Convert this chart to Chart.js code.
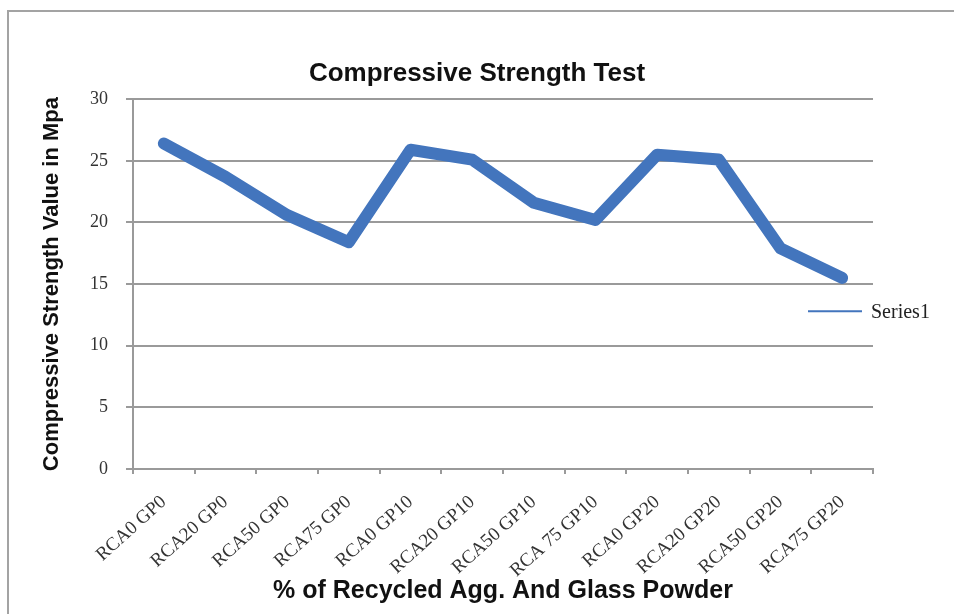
<!DOCTYPE html>
<html>
<head>
<meta charset="utf-8">
<script src="https://cdn.jsdelivr.net/npm/chart.js@4.4.1/dist/chart.umd.min.js"></script>
<style>
  html, body { margin: 0; padding: 0; background: #fff; overflow: hidden; }
  #wrap { position: relative; width: 954px; height: 614px; overflow: hidden; }
  #frame { position: absolute; left: 7px; top: 10px; width: 2000px; height: 1000px; border: 2px solid #a3a3a3; }
  #chart { position: absolute; left: 0; top: 0; }
</style>
</head>
<body>
<div id="wrap">
  <div id="frame"></div>
  <canvas id="chart" width="954" height="614"></canvas>
</div>
<script>
// categories along the x axis
const mixes = [
  'RCA0 GP0', 'RCA20 GP0', 'RCA50 GP0', 'RCA75 GP0',
  'RCA0 GP10', 'RCA20 GP10', 'RCA50 GP10', 'RCA 75 GP10',
  'RCA0 GP20', 'RCA20 GP20', 'RCA50 GP20', 'RCA75 GP20'
]

// compressive strength, MPa
const strength = [26.4, 23.7, 20.6, 18.4, 25.9, 25.1, 21.6, 20.2, 25.5, 25.1, 17.9, 15.5]

const yTicks = [0, 5, 10, 15, 20, 25, 30]

const blue = '#4375bd'
const gridGray = '#9a9a9a'
const serif = 'Liberation Serif'
const sans = 'Liberation Sans'

// Excel-style legend sitting inside the right edge of the plot
const sideLegend = {
  id: 'sideLegend',
  afterDraw(chart) {
    const { ctx, chartArea } = chart
    const ds = chart.data.datasets[0]
    const y = chart.scales.y.getPixelForValue(12.8)
    ctx.save()
    ctx.strokeStyle = ds.borderColor
    ctx.lineWidth = 2
    ctx.beginPath()
    ctx.moveTo(chartArea.right - 65, y)
    ctx.lineTo(chartArea.right - 11, y)
    ctx.stroke()
    ctx.fillStyle = '#222'
    ctx.font = '20px "' + serif + '"'
    ctx.textBaseline = 'middle'
    ctx.fillText(ds.label, chartArea.right - 2, y + 2)
    ctx.restore()
  }
}

const chartConfig = {
  type: 'line',
  data: {
    labels: mixes,
    datasets: [
      {
        label: 'Series1',
        data: strength,
        borderColor: blue,
        backgroundColor: blue,
        borderWidth: 12,
        borderJoinStyle: 'round',
        borderCapStyle: 'round',
        pointRadius: 0,
        tension: 0,
        fill: false
      }
    ]
  },
  options: {
    responsive: false,
    animation: false,
    devicePixelRatio: 1,
    layout: {
      padding: 0
    },
    plugins: {
      legend: { display: false },
      tooltip: { enabled: false },
      title: {
        display: true,
        text: 'Compressive Strength Test',
        color: '#111',
        font: { family: sans, size: 26, weight: 'bold' },
        padding: { top: 58, bottom: 10 }
      }
    },
    scales: {
      x: {
        type: 'category',
        offset: true,
        grid: {
          display: true,
          offset: true,
          drawOnChartArea: false,
          drawTicks: true,
          tickLength: 5,
          color: gridGray,
          lineWidth: 2
        },
        border: { display: true, color: gridGray, width: 2 },
        ticks: {
          autoSkip: false,
          minRotation: 42,
          maxRotation: 42,
          padding: 17,
          color: '#333',
          font: { family: serif, size: 19 }
        },
        title: {
          display: true,
          text: '% of Recycled Agg. And Glass Powder',
          color: '#111',
          font: { family: sans, size: 25, weight: 'bold' },
          padding: { top: 0, bottom: 8 }
        },
        afterFit(scale) {
          scale.height = 145
        }
      },
      y: {
        min: 0,
        max: 30,
        afterBuildTicks(scale) {
          scale.ticks = yTicks.map((v) => ({ value: v }))
        },
        grid: {
          color: gridGray,
          lineWidth: 2,
          drawTicks: true,
          tickLength: 7
        },
        border: { display: true, color: gridGray, width: 2 },
        ticks: {
          padding: 18,
          color: '#333',
          font: { family: serif, size: 18 }
        },
        title: {
          display: true,
          text: 'Compressive Strength Value in Mpa',
          color: '#111',
          font: { family: sans, size: 22, weight: 'bold' },
          padding: { top: 39, bottom: 0 }
        },
        afterFit(scale) {
          scale.width = 133
        }
      },
      // empty right-hand strip that holds the legend area
      side: {
        type: 'linear',
        position: 'right',
        display: true,
        grid: { display: false },
        border: { display: false },
        ticks: { display: false },
        afterFit(scale) {
          scale.width = 81
        }
      }
    }
  },
  plugins: [sideLegend]
}

const strengthChart = new Chart(document.getElementById('chart').getContext('2d'), chartConfig)
</script>
</body>
</html>
